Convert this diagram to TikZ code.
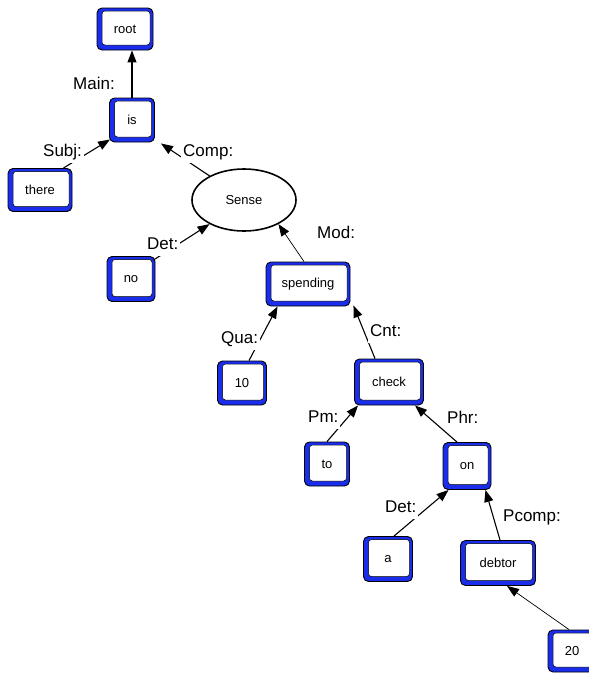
\documentclass[tikz,border=0pt]{standalone}
\usepackage{fontspec}
\setmainfont{Liberation Sans}
\usetikzlibrary{arrows.meta,calc,shapes.geometric}
\definecolor{blu}{RGB}{25,45,235}
\newcommand{\boxfont}{\fontsize{13}{15}\selectfont}
\newcommand{\labfont}{\fontsize{17}{20}\selectfont}
\tikzset{
  wbox/.style={draw=black, line width=0.9pt, fill=blu, rounded corners=5pt,
    inner sep=0pt, font=\boxfont,
    path picture={\draw[black,line width=0.5pt,fill=white,rounded corners=3pt]
      ([xshift=5pt,yshift=5pt]path picture bounding box.south west) rectangle
      ([xshift=-3pt,yshift=-3pt]path picture bounding box.north east);}},
  lab/.style={fill=white, inner xsep=2pt, inner ysep=3pt, anchor=west, font=\labfont,
    text height=12pt, text depth=3.5pt},
  dep/.style={line width=1.1pt, -{Triangle[length=12pt,width=9pt]}},
  thindep/.style={line width=0.7pt, -{Triangle[length=12pt,width=9pt]}},
}
\begin{document}
\begin{tikzpicture}[x=1pt,y=-1pt]
\useasboundingbox (0,0) rectangle (589,673);
% nodes
\node[wbox, minimum width=56pt, minimum height=42pt] (root) at (125,29) {root};
\node[wbox, minimum width=45pt, minimum height=44pt] (is) at (132,120) {is};
\node[wbox, minimum width=64pt, minimum height=43pt] (there) at (40,190) {there};
\node[ellipse, draw=black, line width=1.6pt, fill=white, minimum width=104pt,
  minimum height=62pt, inner sep=0pt, font=\boxfont] (Sense) at (244,200) {Sense};
\node[wbox, minimum width=48pt, minimum height=45pt] (no) at (131,279) {no};
\node[wbox, minimum width=84pt, minimum height=44pt] (spending) at (308,284) {spending};
\node[wbox, minimum width=49pt, minimum height=44pt] (n10) at (242,383) {10};
\node[wbox, minimum width=69pt, minimum height=46pt] (check) at (389,382) {check};
\node[wbox, minimum width=45pt, minimum height=44pt] (to) at (327,464) {to};
\node[wbox, minimum width=48pt, minimum height=47pt] (on) at (467,466) {on};
\node[wbox, minimum width=49pt, minimum height=45pt] (a) at (388,559) {a};
\node[wbox, minimum width=75pt, minimum height=45pt] (debtor) at (498,563) {debtor};
\node[wbox, minimum width=48pt, minimum height=42pt] (n20) at (572,651) {20};
% connectors
\draw[dep] (is.north) -- (is.north |- root.south);
\draw[dep] ($(there.north east)+(-9,0)$) -- ($(is.south west)+(1,-3)$);
\draw[dep] (Sense.145) -- ($(is.south east)+(6,1)$);
\draw[dep] ($(no.north east)+(-2,4)$) -- (Sense.215);
\draw[thindep] ($(spending.north)+(-4,0)$) -- (Sense.325);
\draw[dep] ($(n10.north)+(7,0)$) -- ($(spending.south west)+(12,0)$);
\draw[dep] ($(check.north)+(-14,0)$) -- ($(spending.south east)+(3,-1)$);
\draw[dep] (to.north) -- ($(check.south west)+(4,0)$);
\draw[dep] ($(on.north)+(-10,0)$) -- ($(check.south east)+(-9,0)$);
\draw[dep] ($(a.north)+(6,0)$) -- ($(on.south west)+(6,0)$);
\draw[dep] ($(debtor.north)+(2,0)$) -- ($(on.south east)+(-6,0)$);
\draw[thindep] ($(n20.north)+(-3,0)$) -- ($(debtor.south)+(9,0)$);
% labels
\node[lab] (lMain) at (71,85) {Main:};
\node[lab] (lSubj) at (41,152) {Subj:\hspace{9pt}};
\node[lab] (lComp) at (181,152) {Comp:};
\node[lab] (lDet1) at (145,245) {Det:\hspace{8pt}};
\node[lab] (lMod) at (315,234) {Mod:};
\node[lab] (lQua) at (219,339) {Qua:\hspace{8pt}};
\node[lab] (lCnt) at (368,332) {Cnt:};
\node[lab] (lPm) at (306,418) {Pm:};
\node[lab] (lPhr) at (445,419) {Phr:};
\node[lab] (lDet2) at (383,508) {Det:\hspace{7pt}};
\node[lab] (lPcomp) at (501,517) {Pcomp:};
\end{tikzpicture}
\end{document}
